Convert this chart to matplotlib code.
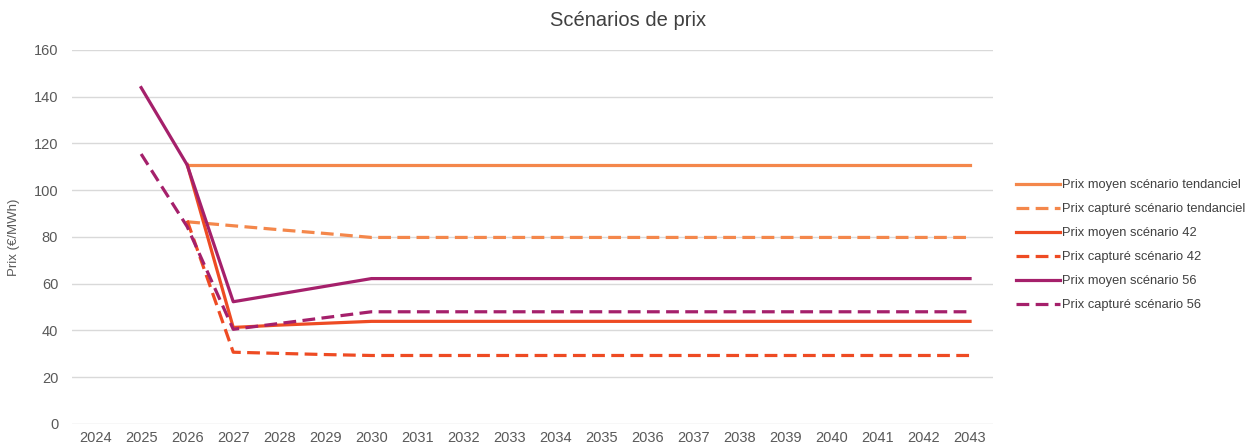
import numpy as np
import matplotlib.pyplot as plt

plt.rcParams['font.family'] = ['Liberation Sans', 'DejaVu Sans']

annees = [str(a) for a in range(2024, 2044)]
nan = np.nan

moyen_tend = [nan, nan, 111, 111, 111, 111, 111] + [111] * 13
capte_tend = [nan, nan, 86.5, 84.8, 83.1, 81.5, 79.8] + [79.8] * 13
moyen_42 = [nan, nan, 111, 41.3, 42.3, 43.1, 43.9] + [43.9] * 13
capte_42 = [nan, nan, 87, 30.7, 30.2, 29.7, 29.3] + [29.3] * 13
moyen_56 = [nan, 143.9, 110.8, 52.3, 55.6, 58.9, 62.2] + [62.2] * 13
capte_56 = [nan, 115.5, 84.4, 40.5, 43.0, 45.5, 48.0] + [48.0] * 13

c_tend = '#F4874B'
c_42 = '#EE4B23'
c_56 = '#A5206B'

fig = plt.figure(figsize=(12.49, 4.47), dpi=100)
ax = fig.add_axes([0.0577, 0.0515, 0.7374, 0.8367])

x = np.arange(len(annees))
lw = 2.3
dash = (4, 2)
ax.plot(x, moyen_tend, color=c_tend, lw=lw, label='Prix moyen scénario tendanciel')
ax.plot(x, capte_tend, color=c_tend, lw=lw, dashes=dash, label='Prix capturé scénario tendanciel')
ax.plot(x, moyen_42, color=c_42, lw=lw, label='Prix moyen scénario 42')
ax.plot(x, capte_42, color=c_42, lw=lw, dashes=dash, label='Prix capturé scénario 42')
ax.plot(x, moyen_56, color=c_56, lw=lw, label='Prix moyen scénario 56')
ax.plot(x, capte_56, color=c_56, lw=lw, dashes=dash, label='Prix capturé scénario 56')

ax.set_xlim(-0.5, len(annees) - 0.5)
ax.set_ylim(0, 160)
ax.set_yticks(range(0, 161, 20))
ax.set_xticks(x)
ax.set_xticklabels(annees)
ax.grid(axis='y', color='#D9D9D9', lw=1)
ax.set_axisbelow(True)
for s in ax.spines.values():
    s.set_visible(False)
ax.tick_params(length=0, colors='#595959', labelsize=10.5)
ax.tick_params(axis='y', pad=10)
ax.tick_params(axis='x', pad=5)
ax.set_ylabel('Prix (€/MWh)', color='#595959', fontsize=9.5, labelpad=10)
fig.text(0.503, 0.955, 'Scénarios de prix', ha='center', va='center',
         fontsize=14.5, color='#404040')

ax.legend(loc='center left', bbox_to_anchor=(1.012, 0.478), frameon=False,
          fontsize=9.3, handlelength=3.4, handletextpad=0.15,
          labelspacing=0.93, labelcolor='#404040')

fig.savefig('out.png', dpi=100)
